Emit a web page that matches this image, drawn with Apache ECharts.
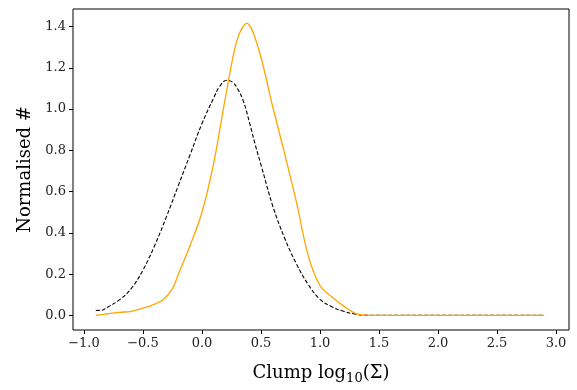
<!DOCTYPE html>
<html><head><meta charset="utf-8">
<script src="https://cdn.jsdelivr.net/npm/echarts@6/dist/echarts.min.js"></script>
<style>html,body{margin:0;padding:0;background:#fff}#c{width:577px;height:390px}</style>
</head><body><div id="c"></div>
<script>
// Black dashed curve
const xBlack = [-0.9,-0.85,-0.8,-0.7,-0.6,-0.5,-0.4,-0.3,-0.2,-0.1,0.0,0.1,0.15,0.21,0.26,0.3,0.35,0.4,0.45,0.5,0.6,0.7,0.8,0.9,1.0,1.1,1.2,1.3,1.4,1.5,2.0,2.5,2.9];
const yBlack = [0.024,0.025,0.04,0.075,0.13,0.22,0.34,0.48,0.63,0.78,0.93,1.055,1.11,1.14,1.13,1.10,1.04,0.94,0.83,0.73,0.53,0.375,0.25,0.15,0.078,0.042,0.02,0.006,0.001,0.0,0.0,0.0,0.0];
// Orange solid curve
const xOrange = [-0.9,-0.8,-0.7,-0.6,-0.5,-0.4,-0.33,-0.25,-0.2,-0.1,0.0,0.1,0.2,0.3,0.38,0.48,0.6,0.7,0.8,0.9,1.0,1.1,1.2,1.3,1.4,1.5,2.0,2.5,2.9];
const yOrange = [0.0,0.008,0.015,0.02,0.035,0.055,0.076,0.13,0.2,0.34,0.5,0.74,1.06,1.34,1.415,1.29,1.01,0.785,0.55,0.29,0.145,0.09,0.045,0.01,0.001,0.0,0.0,0.0,0.0];
const xTicks = [-1.0,-0.5,0.0,0.5,1.0,1.5,2.0,2.5,3.0];
const yTicks = [0.0,0.2,0.4,0.6,0.8,1.0,1.2,1.4];

const FONT = '"DejaVu Serif", serif';
const fmt = v => v.toFixed(1).replace('-', '\u2212');
const chart = echarts.init(document.getElementById('c'));
chart.setOption({
  animation: false,
  grid: {left: 73, right: 8, top: 9, bottom: 60, show: true, borderColor: '#000', borderWidth: 1, containLabel: false},
  xAxis: {
    type: 'value', min: -1.093, max: 3.11,
    name: '{t|Clump log}{s|10}{t|(Σ)}', nameLocation: 'middle', nameGap: 32,
    nameTextStyle: {rich: {t: {fontFamily: FONT, fontSize: 18, color: '#000'}, s: {fontFamily: FONT, fontSize: 13, color: '#000', padding: [10,0,0,0]}}},
    axisLine: {show: false, onZero: false},
    axisTick: {show: true, length: 4, inside: false, customValues: xTicks, lineStyle: {color: '#000'}},
    axisLabel: {customValues: xTicks, formatter: fmt, fontFamily: FONT, fontSize: 13, color: '#222', margin: 7},
    splitLine: {show: false}
  },
  yAxis: {
    type: 'value', min: -0.0707, max: 1.485,
    name: 'Normalised #', nameLocation: 'middle', nameGap: 36, nameRotate: 90,
    nameTextStyle: {fontFamily: FONT, fontSize: 18, color: '#000'},
    axisLine: {show: false, onZero: false},
    axisTick: {show: true, length: 4, customValues: yTicks, lineStyle: {color: '#000'}},
    axisLabel: {customValues: yTicks, formatter: fmt, fontFamily: FONT, fontSize: 13, color: '#222', margin: 7},
    splitLine: {show: false}
  },
  series: [
    {type: 'line', data: xBlack.map((x, i) => [x, yBlack[i]]), smooth: 0.4, showSymbol: false,
     lineStyle: {color: '#000', width: 1.1, type: [4, 2]}, z: 2},
    {type: 'line', data: xOrange.map((x, i) => [x, yOrange[i]]), smooth: 0.35, showSymbol: false,
     lineStyle: {color: '#ffa500', width: 1.3}, z: 3}
  ]
});
</script></body></html>
